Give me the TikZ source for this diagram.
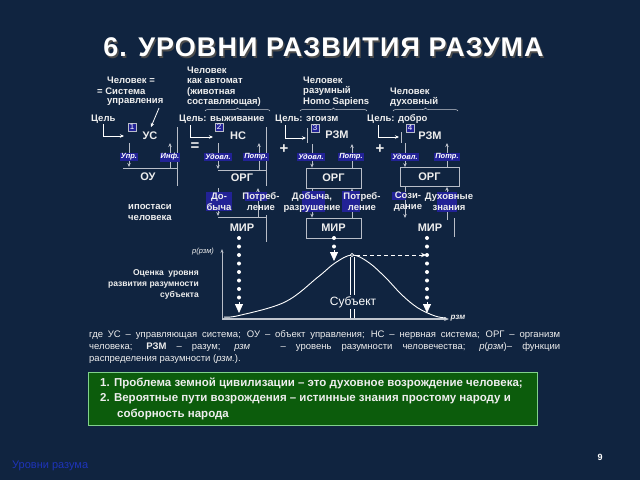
\documentclass[tikz,border=0pt]{standalone}
\usepackage{fontspec}
\setmainfont{Liberation Sans}
\usetikzlibrary{arrows.meta,decorations.pathreplacing,calc}
\definecolor{bg}{RGB}{16,36,64}
\definecolor{lbl}{RGB}{34,34,150}
\definecolor{grn}{RGB}{12,92,12}
\definecolor{lnc}{RGB}{185,190,200}
\definecolor{txt}{RGB}{238,238,238}
\definecolor{foot}{RGB}{30,52,185}
\begin{document}
\begin{tikzpicture}[x=1pt,y=-1pt,
  t/.style={text=txt,font=\bfseries\fontsize{9.5}{11}\selectfont,inner sep=0pt},
  big/.style={text=txt,font=\bfseries\fontsize{11}{12}\selectfont,inner sep=0pt},
  lab/.style={fill=lbl,text=white,font=\bfseries\itshape\fontsize{7.5}{8}\selectfont,inner sep=1pt,minimum height=8.5pt},
  num/.style={fill=lbl,draw=lnc,line width=0.4pt,text=white,font=\fontsize{8}{8}\selectfont,inner sep=0.5pt,minimum width=8pt,minimum height=8.5pt},
  lnn/.style={draw=lnc,line width=0.8pt},
  ar/.style={lnn,-{Stealth[length=4pt,width=3.5pt]}},
  boxn/.style={draw=lnc,line width=0.8pt,minimum width=55pt,minimum height=20pt,inner sep=0pt,text=txt,font=\bfseries\fontsize{11}{12}\selectfont},
  dots/.style={white,line width=4pt,line cap=round,dash pattern=on 0pt off 8.5pt},
  dtip/.style={white,line width=0.8pt,-{Triangle[length=9pt,width=8pt]}},
  brc/.style={draw=lnc!80,line width=0.5pt,decorate,decoration={brace,amplitude=3pt}},
  hl/.style={fill=lbl,draw=none},
  par/.style={text=txt,font=\fontsize{9.5}{11}\selectfont,inner sep=0pt,anchor=west},
  gt/.style={text=txt,font=\bfseries\fontsize{11.5}{12}\selectfont,inner sep=0pt,anchor=west},
  ttl/.style={font=\bfseries\fontsize{27}{30}\selectfont\addfontfeature{LetterSpace=4},inner sep=0pt},
]
\useasboundingbox (0,0) rectangle (640,480);
\fill[bg] (0,0) rectangle (640,480);

% title
\node[ttl,text=black!70] (titsh) at (325,49) {6. УРОВНИ РАЗВИТИЯ РАЗУМА};
\node[ttl,text=white] (title) at (323.5,47.5) {6. УРОВНИ РАЗВИТИЯ РАЗУМА};

% captions
\node[t,anchor=west] (c1a) at (107,80) {Человек =};
\node[t,anchor=west] (c1b) at (97,91) {= Система};
\node[t,anchor=west] (c1c) at (107,102) {управления};
\node[t,anchor=west] (c2a) at (187,70) {Человек};
\node[t,anchor=west] (c2b) at (187,81) {как автомат};
\node[t,anchor=west] (c2c) at (187,92) {(животная};
\node[t,anchor=west] (c2d) at (187,102) {составляющая)};
\node[t,anchor=west] (c3a) at (303,80) {Человек};
\node[t,anchor=west] (c3b) at (303,91) {разумный};
\node[t,anchor=west] (c3c) at (303,102) {Homo Sapiens};
\node[t,anchor=west] (c4a) at (390,91) {Человек};
\node[t,anchor=west] (c4b) at (390,102) {духовный};
\coordinate (b2l) at (205,111); \coordinate (b2r) at (270,111);
\coordinate (b3l) at (300,111); \coordinate (b3r) at (367,111);
\coordinate (b4l) at (393,111); \coordinate (b4r) at (458,111);
\draw[brc] (b2l) -- (b2r);
\draw[brc] (b3l) -- (b3r);
\draw[brc] (b4l) -- (b4r);

% goals
\node[t,anchor=west] (g1) at (91,119) {Цель};
\node[t,anchor=west] (g2) at (179,119) {Цель: выживание};
\node[t,anchor=west] (g3) at (275,119) {Цель: эгоизм};
\node[t,anchor=west] (g4) at (367,119) {Цель: добро};

% ---------- block 1
\node[num] (n1) at (132,127) {1};
\node[big] (us) at (150,136) {УС};
\coordinate (l1a) at (103,124); \coordinate (l1b) at (124,136);
\draw[ar,draw=white] (l1a) |- (l1b);
\coordinate (ca1) at (159,108); \coordinate (ca2) at (151,127);
\draw[ar,draw=white] (ca1) -- (ca2);
\draw[lnn] (177,127) -- (177,186);
\draw[lnn] (123,168) -- (178,168);
\draw[ar] (129,143) -- (129,167);
\draw[ar] (170,168) -- (170,143);
\node[lab] (u1) at (129,157) {Упр.};
\node[lab] (i1) at (170,157) {Инф.};
\node[big] (ou) at (148,177) {ОУ};

% ---------- block 2
\node[text=txt,font=\bfseries\fontsize{15}{15}\selectfont,inner sep=0pt] (eq) at (195,147) {=};
\node[num] (n2) at (219,127) {2};
\node[big] (ns) at (238,136) {НС};
\coordinate (l2a) at (190,125); \coordinate (l2b) at (213,137);
\draw[ar,draw=white] (l2a) |- (l2b);
\draw[lnn] (266,127) -- (266,186);
\draw[lnn] (218,170) -- (266,170);
\draw[ar] (218,143) -- (218,169);
\draw[ar] (259,170) -- (259,143);
\node[lab] (u2) at (218,157) {Удовл.};
\node[lab] (p2) at (256,157) {Потр.};
\node[big] (org2) at (242,178) {ОРГ};
\draw[lnn] (218,217) -- (266,217);
\draw[lnn] (266,215) -- (266,242);
\draw[ar] (218,188) -- (218,216);
\draw[ar] (258,217) -- (258,188);
\node[t,hl,align=center,inner sep=1pt,text=txt] (d2) at (219,201.5) {До-\\быча};
\fill[lbl] (245,192) rectangle (267,201);
\node[t,align=center] (pp2) at (261,202) {Потреб-\\ление};
\node[big] (mir2) at (242,228) {МИР};

% ---------- block 3
\node[text=txt,font=\bfseries\fontsize{15}{15}\selectfont,inner sep=0pt] (pl3) at (284,149) {+};
\node[num] (n3) at (315,128) {3};
\node[big] (rzm3) at (337,135) {РЗМ};
\coordinate (l3a) at (285,125); \coordinate (l3b) at (306,138);
\draw[ar,draw=white] (l3a) |- (l3b);
\draw[lnn] (307,128) -- (307,143);
\node[boxn] (org3) at (333.5,178) {ОРГ};
\node[boxn] (mir3) at (333.5,228) {МИР};
\draw[ar] (312,144) -- (312,144 |- org3.north);
\draw[ar] (352,144 |- org3.north) -- (352,144);
\draw[ar] (312,144 |- org3.south) -- (312,144 |- mir3.north);
\draw[ar] (352,144 |- mir3.north) -- (352,144 |- org3.south);
\node[lab] (u3) at (311,157) {Удовл.};
\node[lab] (p3) at (351,157) {Потр.};
\fill[lbl] (302,191) rectangle (325,212);
\node[t,align=center] (db3) at (312,202) {Добыча,\\разрушение};
\fill[lbl] (342,191) rectangle (360,212);
\node[t,align=center] (pp3) at (362,202) {Потреб-\\ление};

% ---------- block 4
\node[text=txt,font=\bfseries\fontsize{15}{15}\selectfont,inner sep=0pt] (pl4) at (380,149) {+};
\node[num] (n4) at (410,128) {4};
\node[big] (rzm4) at (430,136) {РЗМ};
\coordinate (l4a) at (378,125); \coordinate (l4b) at (399,137);
\draw[ar,draw=white] (l4a) |- (l4b);
\draw[lnn] (401,132) -- (401,143);
\node[boxn,minimum width=59pt,minimum height=19pt] (org4) at (429.5,177) {ОРГ};
\draw[ar] (405,143) -- (405,143 |- org4.north);
\draw[ar] (447,143 |- org4.north) -- (447,143);
\draw[ar] (405,143 |- org4.south) -- (405,218);
\draw[ar] (447,220) -- (447,143 |- org4.south);
\node[lab] (u4) at (405,157) {Удовл.};
\node[lab] (p4) at (447,157) {Потр.};
\fill[lbl] (392,192) rectangle (406,200);
\node[t,align=center] (sz4) at (408,202) {Сози-\\дание};
\fill[lbl] (437,192) rectangle (457,212);
\node[t,align=center] (dz4) at (449,202) {Духовные\\знания};
\node[big] (mir4) at (430,228) {МИР};
\draw[lnn] (454,218) -- (454,237);

\node[t,align=center] (ip) at (150,212) {ипостаси\\человека};

% ---------- graph
\coordinate (O) at (222,319);
\coordinate (Ytop) at (222,249);
\coordinate (Xend) at (449,319);
\draw[lnc,line width=0.8pt,-{Stealth[length=4pt,width=3pt]}] (O) -- (Ytop);
\draw[lnc!90,line width=2pt,-{Stealth[length=5pt,width=4pt]}] (O) -- (Xend);
\node[text=txt,font=\itshape\fontsize{7.5}{8}\selectfont,inner sep=0pt] (py) at (203,252) {p(рзм)};
\node[text=txt,font=\bfseries\itshape\fontsize{8}{8}\selectfont,inner sep=0pt] (rx) at (458,318) {рзм};
\draw[white,line width=0.9pt] plot[smooth,tension=0.6] coordinates {(224,317) (239,315.5) (285,302) (318,277) (335,263) (352,255) (368,262) (385,277) (402,295) (418,308) (435,316) (446,318)};
\draw[white,line width=1pt] (350.5,257) -- (350.5,318) (354.5,257) -- (354.5,318);
\node[text=white,fill=bg,font=\fontsize{12}{12}\selectfont,inner sep=1pt] (sub) at (353,302) {Субъект};
\draw[white,fill=bg,line width=0.6pt] (352,255) circle (1.6);
\coordinate (ds) at (356,255); \coordinate (de) at (426,255);
\draw[white,line width=0.9pt,dash pattern=on 4pt off 3pt,-{Stealth[length=5pt,width=4.5pt]}] (ds) -- (de);

\draw[dots] (239,238) -- (239,300);
\draw[dtip] (239,302) -- (239,313);
\draw[dots] (334,238) -- (334,248);
\draw[dtip] (334,250) -- (334,261);
\draw[dots] (427,238) -- (427,300);
\draw[dtip] (427,302) -- (427,313);

\node[text=txt,font=\bfseries\fontsize{8.5}{11}\selectfont,inner sep=0pt,align=right,anchor=east] (est) at (199,284) {Оценка\ \ уровня\\развития разумности\\субъекта};

% ---------- paragraph
\node[par] (pa1) at (89,335) {\makebox[471pt][s]{где УС – управляющая система; ОУ – объект управления; НС – нервная система; ОРГ – организм}};
\node[par] (pa2) at (89,347) {\makebox[471pt][s]{человека; \textbf{РЗМ} – разум; \textit{рзм}\ \ \ – уровень разумности человечества; \textit{p}(\textit{рзм})– функции}};
\node[par] (pa3) at (89,359) {распределения разумности (\textit{рзм.}).};

% ---------- green box
\node[draw=lnc!70!green,line width=0.6pt,fill=grn,minimum width=449pt,minimum height=53pt,anchor=north west,inner sep=0pt] (gbox) at (88,372) {};
\node[gt] (gl1) at (100,383) {1. Проблема земной цивилизации – это духовное возрождение человека;};
\node[gt] (gl2) at (100,399) {2. Вероятные пути возрождения – истинные знания простому народу и};
\node[gt] (gl3) at (117,414) {соборность народа};

% footer
\node[text=foot,font=\fontsize{11}{11}\selectfont,inner sep=0pt,anchor=west] (ft) at (12,466) {Уровни разума};
\node[text=white,font=\bfseries\fontsize{9}{9}\selectfont,inner sep=0pt] (pg) at (600,457) {9};
\end{tikzpicture}
\end{document}
